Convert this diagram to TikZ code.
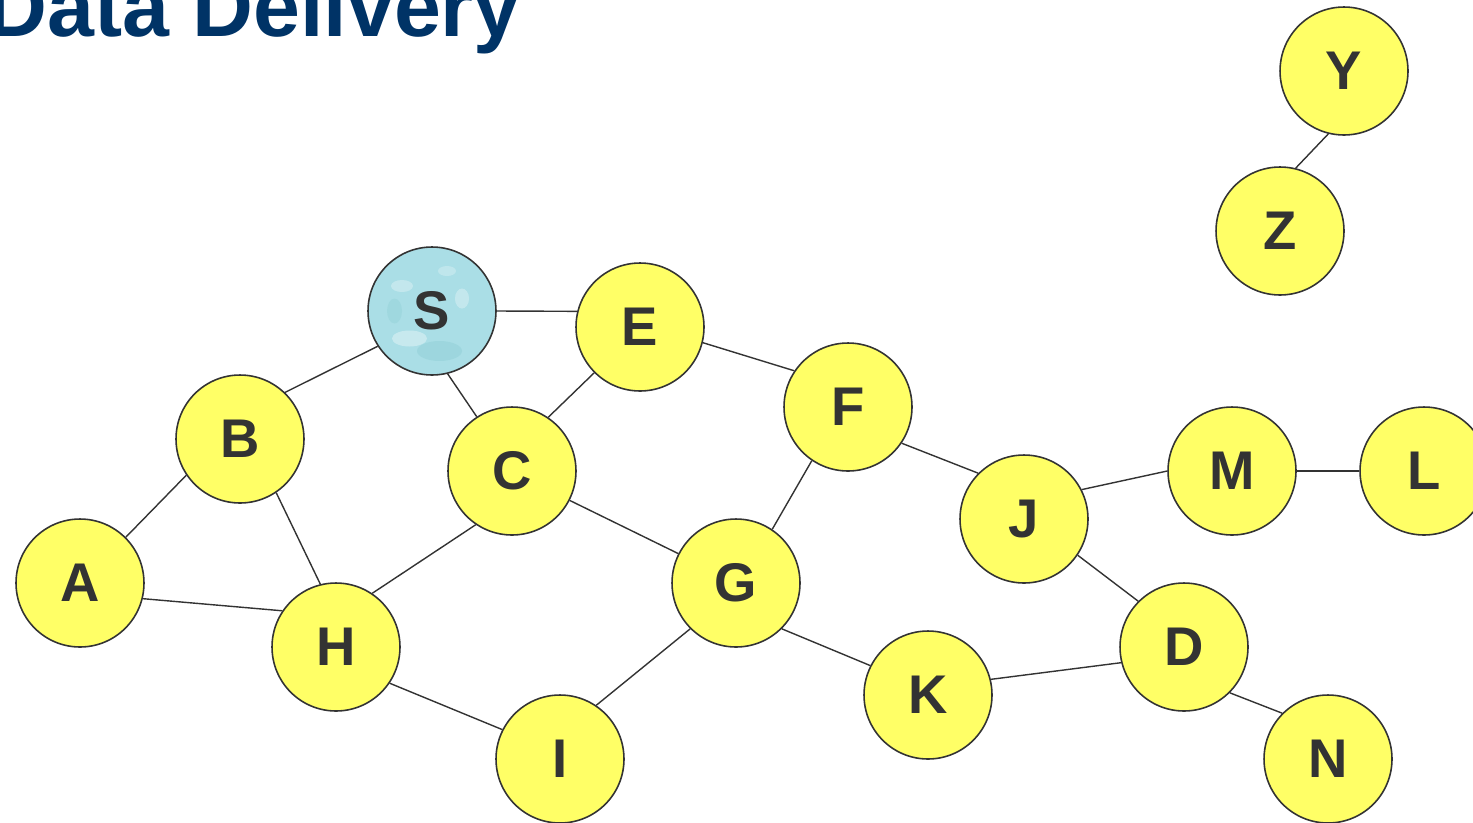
\documentclass[tikz,border=0pt]{standalone}
\usepackage{fontspec}
\setmainfont{Liberation Sans}
\usepackage{tikz}
\usetikzlibrary{positioning}
\definecolor{titleblue}{RGB}{0,51,102}
\definecolor{nodeyellow}{RGB}{255,255,102}
\definecolor{sourceblue}{RGB}{170,222,230}
\definecolor{linegray}{RGB}{51,51,51}

\begin{document}
\begin{tikzpicture}[x=0.02cm,y=-0.02cm]

\tikzset{netnode/.style={draw=linegray, circle, line width=0.9pt, fill=nodeyellow,
  minimum size=2.56cm, inner sep=0pt, text=linegray,
  font=\fontsize{31}{31}\selectfont\bfseries},
  srcnode/.style={netnode, fill=sourceblue, path picture={
    \fill[white, opacity=0.35] ([shift={(-0.45cm,-0.55cm)}]path picture bounding box.center) ellipse (0.35cm and 0.16cm);
    \fill[white, opacity=0.3] ([shift={(-0.6cm,0.5cm)}]path picture bounding box.center) ellipse (0.22cm and 0.12cm);
    \fill[white, opacity=0.3] ([shift={(0.6cm,0.25cm)}]path picture bounding box.center) ellipse (0.14cm and 0.2cm);
    \fill[white, opacity=0.25] ([shift={(0.3cm,0.8cm)}]path picture bounding box.center) ellipse (0.18cm and 0.1cm);
    \fill[sourceblue!70!teal, opacity=0.25] ([shift={(0.15cm,-0.8cm)}]path picture bounding box.center) ellipse (0.45cm and 0.2cm);
    \fill[sourceblue!70!teal, opacity=0.2] ([shift={(-0.75cm,0cm)}]path picture bounding box.center) ellipse (0.15cm and 0.25cm);}},
  link/.style={draw=linegray, line width=0.8pt}}

    \useasboundingbox (0,0) rectangle (1473,822);

    % Title
    \node[anchor=base west, inner sep=0pt, text=titleblue,
    font=\fontsize{48}{48}\selectfont\bfseries] (title) at (-14,36) {Data Delivery};

    % Nodes
    \node[srcnode] (S) at (432,311) {S};
    \node[netnode] (E) at (640,327) {E};
    \node[netnode] (B) at (240,439) {B};
    \node[netnode] (C) at (512,471) {C};
    \node[netnode] (F) at (848,407) {F};
    \node[netnode] (A) at (80,583) {A};
    \node[netnode] (H) at (336,647) {H};
    \node[netnode] (G) at (736,583) {G};
    \node[netnode] (J) at (1024,519) {J};
    \node[netnode] (M) at (1232,471) {M};
    \node[netnode] (L) at (1424,471) {L};
    \node[netnode] (D) at (1184,647) {D};
    \node[netnode] (K) at (928,695) {K};
    \node[netnode] (I) at (560,759) {I};
    \node[netnode] (N) at (1328,759) {N};
    \node[netnode] (Y) at (1344,71) {Y};
    \node[netnode] (Z) at (1280,231) {Z};

    % Links
    \draw[link] (S.0) -- (E.166);
    \draw[link] (B.46) -- (S.213);
    \draw[link] (S.284) -- (C.123);
    \draw[link] (C.56) -- (E.225);
    \draw[link] (E.-14) -- (F.146);
    \draw[link] (B.214) -- (A.45);
    \draw[link] (B.-56) -- (H.104);
    \draw[link] (A.-14) -- (H.146);
    \draw[link] (C.236) -- (H.56);
    \draw[link] (C.-27) -- (G.153);
    \draw[link] (F.236) -- (G.56);
    \draw[link] (F.-34) -- (J.135);
    \draw[link] (J.27) -- (M.180);
    \draw[link] (M.0) -- (L.180);
    \draw[link] (J.-34) -- (D.135);
    \draw[link] (G.-45) -- (K.153);
    \draw[link] (G.225) -- (I.56);
    \draw[link] (H.-34) -- (I.153);
    \draw[link] (K.14) -- (D.194);
    \draw[link] (D.-45) -- (N.135);
    \draw[link] (Y.256) -- (Z.76);

\end{tikzpicture}
\end{document}
